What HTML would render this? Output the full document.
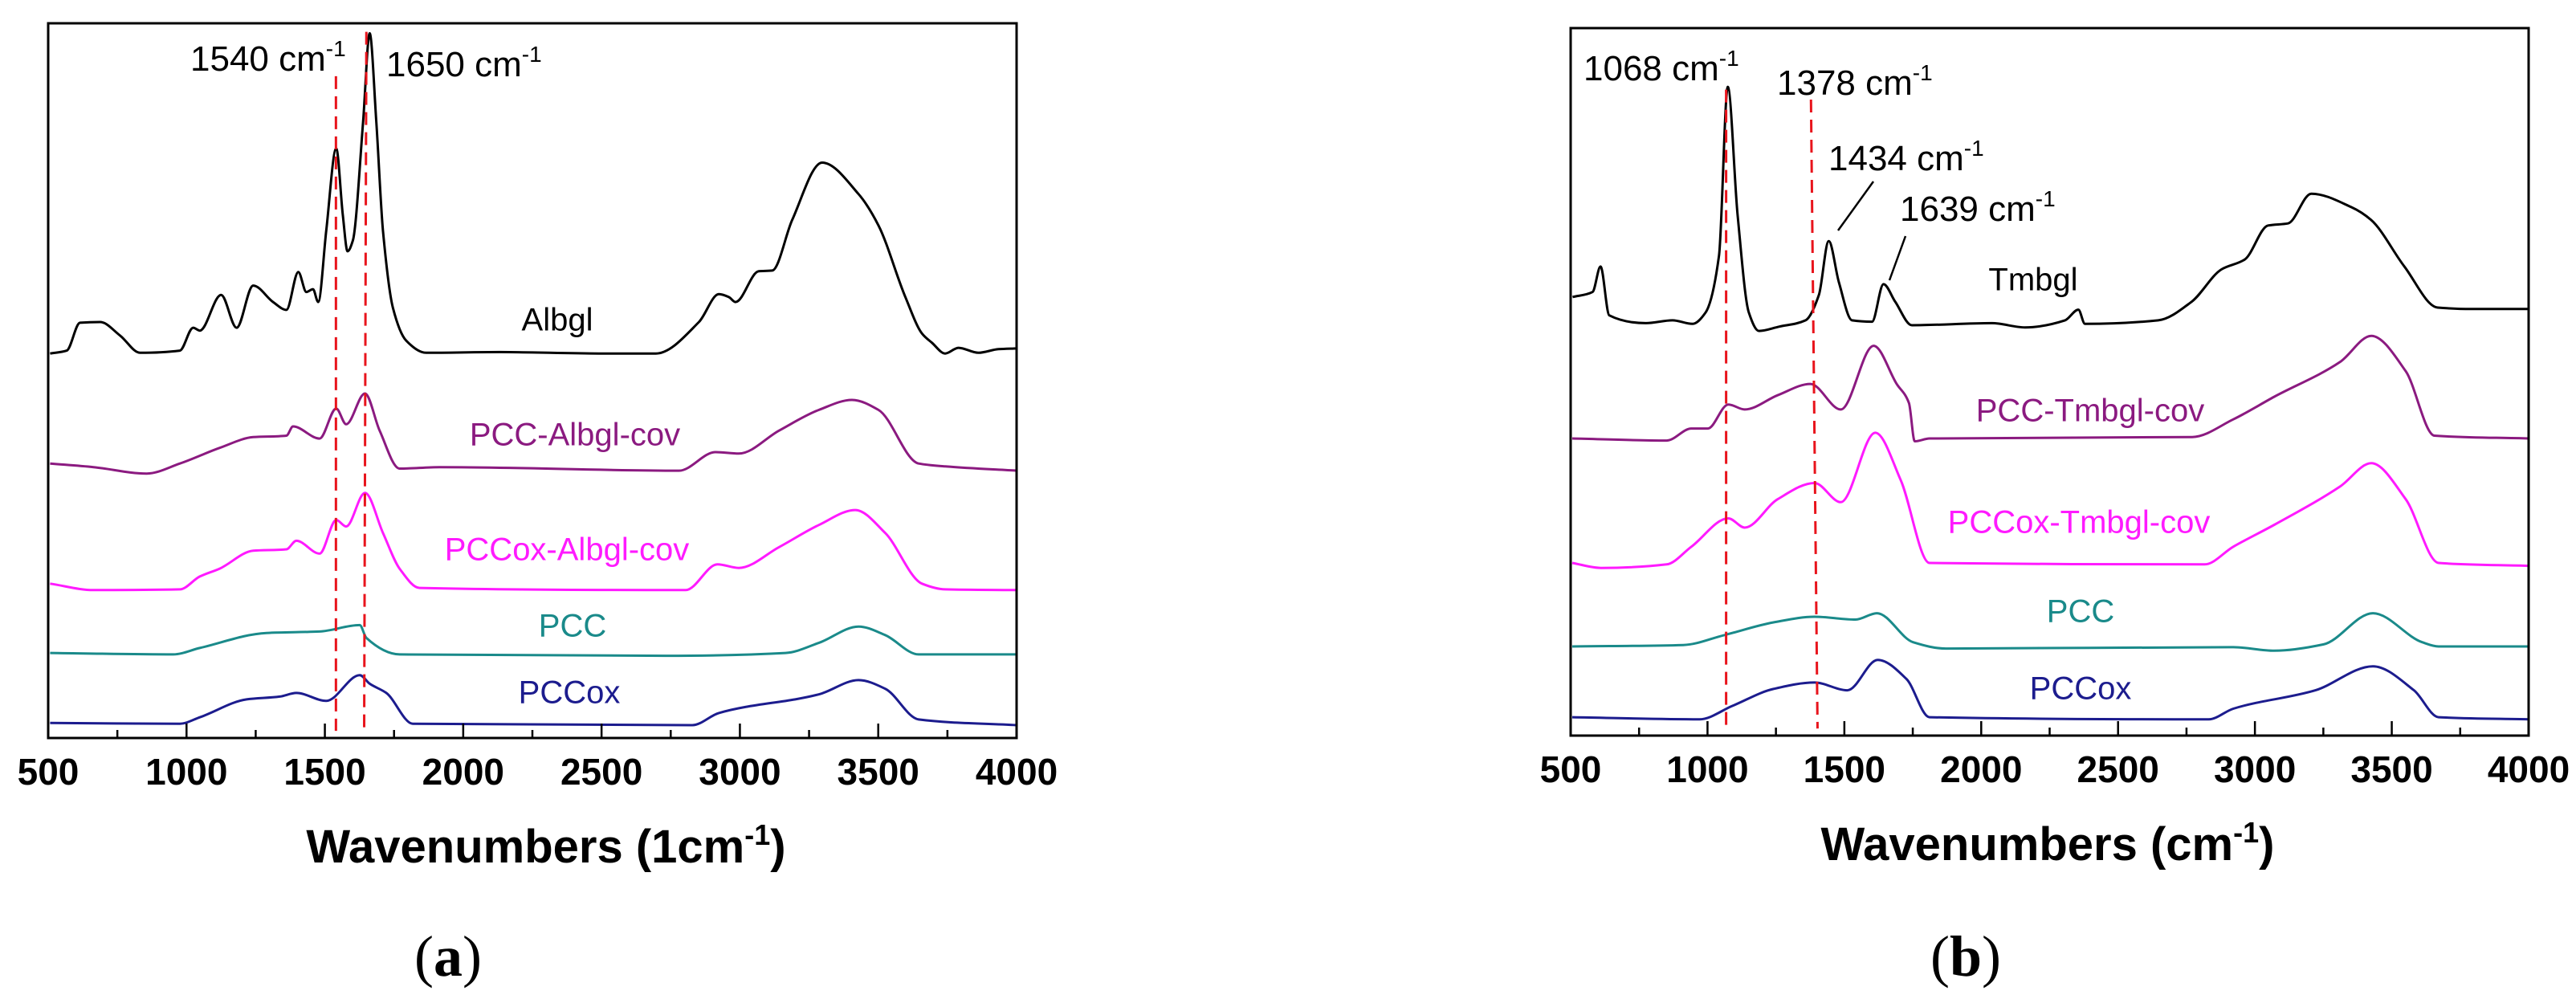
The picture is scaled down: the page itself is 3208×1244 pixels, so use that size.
<!DOCTYPE html>
<html><head><meta charset="utf-8"><style>
html,body{margin:0;padding:0;background:#fff;}
svg{display:block;font-family:"Liberation Sans",sans-serif;}
</style></head><body>
<svg id="chart" width="3208" height="1244" viewBox="0 0 3208 1244" xmlns="http://www.w3.org/2000/svg">
<rect width="3208" height="1244" fill="#fff"/>
<g id="panelA"></g>
<g id="panelB"></g>
</svg>
<script>
const NS="http://www.w3.org/2000/svg";
const xTicks=[500,1000,1500,2000,2500,3000,3500,4000];
// Panel A data
const aAlbglX=[507,567,615,688,760,832,976,1024,1048,1125,1181,1241,1313,1361,1404,1433,1457,1476,1505,1541,1565,1582,1601,1638,1662,1686,1710,1746,1794,1866,2131,2491,2696,2852,2924,2960,2984,3068,3117,3189,3297,3429,3501,3598,3658,3694,3742,3790,3862,3934,4000];
const aAlbglY=[53.8,54.2,58.1,58.2,56.3,53.9,54.2,57.4,57.0,62.0,57.4,63.3,61.0,59.9,65.2,62.4,62.8,61.0,71.0,82.5,73.1,68.1,69.6,86.1,98.6,86.1,71.0,60.2,55.6,53.9,54.0,53.8,53.8,58.2,62.1,61.7,61.0,65.3,65.4,72.5,80.5,76.1,71.7,61.7,56.6,55.3,53.8,54.6,53.9,54.4,54.5];
const aPccCovX=[507,664,856,976,1120,1241,1361,1385,1481,1541,1577,1645,1698,1770,1914,2780,2912,2996,3141,3285,3405,3501,3646,3742,4000];
const aPccCovY=[38.4,37.9,37.0,38.4,40.6,42.1,42.3,43.6,41.9,46.1,43.9,48.2,43.0,37.7,37.9,37.4,40.0,39.8,43.0,45.9,47.3,45.9,38.4,38.0,37.4];
const aPccoxCovX=[507,664,976,1048,1120,1241,1361,1397,1481,1541,1577,1645,1710,1770,1842,2804,2919,2996,3141,3285,3417,3525,3658,3742,4000];
const aPccoxCovY=[21.6,20.7,20.8,22.6,23.7,26.2,26.4,27.6,25.8,30.5,29.6,34.3,28.7,23.7,21.0,20.7,24.3,23.8,26.7,29.8,31.9,28.7,21.6,20.8,20.7];
const aPccX=[507,952,1048,1289,1481,1626,1650,1770,2732,3165,3285,3429,3525,3646,4000];
const aPccY=[11.9,11.7,12.6,14.7,14.9,15.8,14.0,11.7,11.5,11.9,13.3,15.6,14.4,11.7,11.7];
const aPccoxX=[507,976,1048,1217,1337,1397,1505,1626,1662,1722,1818,2828,2924,3285,3429,3525,3646,4000];
const aPccoxY=[2.1,2.0,2.9,5.4,5.8,6.3,5.2,8.8,7.6,6.3,2.0,1.8,3.5,6.1,8.1,6.9,2.6,1.8];
const aPeaks=[1540,1650];
const aPeakTop=[92.6,98.8];
// Panel B data
const bTmbglX=[507,580,609,641,775,872,945,993,1042,1074,1110,1151,1188,1261,1358,1407,1443,1480,1528,1601,1643,1686,1747,2039,2160,2306,2355,2379,2647,2768,2878,2963,3048,3121,3206,3352,3424,3546,3668,3789,4000];
const bTmbglY=[62.0,62.7,66.3,59.4,58.3,58.7,58.2,59.8,67.8,91.7,73.6,59.8,57.2,57.8,58.7,62.3,69.9,64.1,58.7,58.5,63.8,61.3,58.0,58.3,57.7,58.7,60.2,58.2,58.7,61.3,65.9,67.3,72.1,72.4,76.6,74.7,72.9,66.3,60.5,60.3,60.3];
const bPccCovX=[506,851,941,1001,1076,1136,1256,1376,1487,1607,1691,1736,1757,1811,2771,2921,3071,3311,3425,3551,3656,4000];
const bPccCovY=[42.0,41.7,43.4,43.4,46.8,46.1,48.1,49.7,46.1,55.1,49.7,47.0,41.6,42.0,42.2,44.7,47.9,52.8,56.5,51.5,42.4,42.0];
const bPccoxCovX=[506,611,851,941,1076,1136,1256,1391,1487,1613,1706,1811,2816,2921,3071,3311,3425,3551,3671,4000];
const bPccoxCovY=[24.4,23.7,24.2,26.7,30.7,29.4,33.4,35.7,33.0,42.8,36.1,24.4,24.2,26.7,29.8,35.2,38.5,33.4,24.4,24.0];
const bPccX=[506,911,1061,1241,1391,1541,1619,1751,1871,2921,3071,3251,3431,3611,3671,4000];
const bPccY=[12.6,12.8,14.2,16.0,16.8,16.4,17.3,13.2,12.3,12.5,12.0,12.9,17.3,13.2,12.6,12.6];
const bPccoxX=[506,971,1091,1241,1391,1511,1622,1727,1811,2831,2921,3221,3431,3581,3671,4000];
const bPccoxY=[2.6,2.3,4.2,6.6,7.5,6.4,10.7,8.0,2.6,2.3,3.8,6.4,9.8,6.4,2.6,2.3];
const bPeaks=[1068,1378];
const bPeakTop=[91.3,89.9];

function mk(tag,attrs,parent,text){const e=document.createElementNS(NS,tag);for(const k in attrs)e.setAttribute(k,attrs[k]);if(text!==undefined)e.textContent=text;parent.appendChild(e);return e;}

// monotone cubic (Fritsch-Carlson) path, no overshoot
function smoothPath(pts){
  const n=pts.length;
  const dx=[],sl=[];
  for(let i=0;i<n-1;i++){dx[i]=pts[i+1][0]-pts[i][0];sl[i]=(pts[i+1][1]-pts[i][1])/dx[i];}
  const m=[];
  m[0]=sl[0];m[n-1]=sl[n-2];
  for(let i=1;i<n-1;i++){
    if(sl[i-1]*sl[i]<=0)m[i]=0;
    else{const w1=2*dx[i]+dx[i-1],w2=dx[i]+2*dx[i-1];m[i]=(w1+w2)/(w1/sl[i-1]+w2/sl[i]);}
  }
  let d="M"+pts[0][0].toFixed(1)+","+pts[0][1].toFixed(1);
  for(let i=0;i<n-1;i++){
    const h=dx[i]/3;
    d+="C"+(pts[i][0]+h).toFixed(1)+","+(pts[i][1]+m[i]*h).toFixed(1)+" "+(pts[i+1][0]-h).toFixed(1)+","+(pts[i+1][1]-m[i+1]*h).toFixed(1)+" "+pts[i+1][0].toFixed(1)+","+pts[i+1][1].toFixed(1);
  }
  return d;
}

function panel(g,box,series,peaks,peakTop,peakSlant,xlabelParts,letter,letterX){
  const sx=v=>box.l+(v-500)/3500*(box.r-box.l);
  const sy=v=>box.b-v/100*(box.b-box.t);
  series.forEach(s=>{
    const pts=s.x.map((xv,i)=>[sx(xv),sy(s.y[i])]);
    const p=mk("path",{d:smoothPath(pts),fill:"none",stroke:s.c,"stroke-width":3,"stroke-linejoin":"round"},g);
    
    
    const t=mk("text",{x:s.lx,y:s.ly,"text-anchor":"middle","font-size":40,fill:s.c,"dominant-baseline":"middle"},g,s.label);
    
    
  });
  peaks.forEach((pk,i)=>{
    const l=mk("line",{x1:sx(pk),x2:sx(pk+peakSlant[i]),y1:sy(peakTop[i]),y2:sy(1),stroke:"#e8141c","stroke-width":3,"stroke-dasharray":"16,9"},g);
    
    
  });
  const fr=mk("rect",{x:box.l,y:box.t,width:box.r-box.l,height:box.b-box.t,fill:"none",stroke:"#000","stroke-width":3},g);
  
  
  for(let v=500;v<=4000;v+=250){
    const major=(v%500===0);
    const tk=mk("line",{x1:sx(v),x2:sx(v),y1:box.b,y2:box.b-(major?18:10),stroke:"#000","stroke-width":2.5},g);
    
    
  }
  xTicks.forEach(v=>{
    const t=mk("text",{x:sx(v),y:box.b+58,"text-anchor":"middle","font-size":46,"font-weight":"bold"},g,String(v));
    
    
  });
  const xl=mk("text",{x:(box.xlx),y:box.b+155,"text-anchor":"middle","font-size":58,"font-weight":"bold"},g);
  
  
  mk("tspan",{},xl,xlabelParts[0]);
  mk("tspan",{dy:-22,"font-size":36},xl,"-1");
  mk("tspan",{dy:22},xl,xlabelParts[1]);
  const lt=mk("text",{x:letterX,y:1215,"text-anchor":"middle","font-size":72,"font-family":"Liberation Serif, serif"},g);
  
  
  mk("tspan",{},lt,"(");
  mk("tspan",{"font-weight":"bold"},lt,letter);
  mk("tspan",{},lt,")");
  return {sx,sy};
}
function ann(g,x,y,num,name){
  const t=mk("text",{x:x,y:y,"font-size":44},g);
  
  
  mk("tspan",{},t,num+" cm");
  mk("tspan",{dy:-18,"font-size":28},t,"-1");
}
const gA=document.getElementById("panelA");
const boxA={l:60,r:1266,t:29,b:919,xlx:680};
panel(gA,boxA,[
 {name:"albgl",x:aAlbglX,y:aAlbglY,c:"#000",label:"Albgl",lx:694,ly:401},
 {name:"pcc-albgl-cov",x:aPccCovX,y:aPccCovY,c:"#8b1a80",label:"PCC-Albgl-cov",lx:716,ly:544},
 {name:"pccox-albgl-cov",x:aPccoxCovX,y:aPccoxCovY,c:"#ff1aff",label:"PCCox-Albgl-cov",lx:706,ly:687},
 {name:"pcc",x:aPccX,y:aPccY,c:"#1a8a8a",label:"PCC",lx:713,ly:782},
 {name:"pccox",x:aPccoxX,y:aPccoxY,c:"#1c1c8e",label:"PCCox",lx:709,ly:865}
],aPeaks,aPeakTop,[0,-8],["Wavenumbers (1cm",")"],"a",558);
ann(gA,237,88,"1540","annotation-1540");
ann(gA,481,95,"1650","annotation-1650");

const gB=document.getElementById("panelB");
const boxB={l:1956,r:3149,t:35,b:916,xlx:2550};
panel(gB,boxB,[
 {name:"tmbgl",x:bTmbglX,y:bTmbglY,c:"#000",label:"Tmbgl",lx:2532,ly:351},
 {name:"pcc-tmbgl-cov",x:bPccCovX,y:bPccCovY,c:"#8b1a80",label:"PCC-Tmbgl-cov",lx:2603,ly:514},
 {name:"pccox-tmbgl-cov",x:bPccoxCovX,y:bPccoxCovY,c:"#ff1aff",label:"PCCox-Tmbgl-cov",lx:2589,ly:653},
 {name:"pcc",x:bPccX,y:bPccY,c:"#1a8a8a",label:"PCC",lx:2591,ly:764},
 {name:"pccox",x:bPccoxX,y:bPccoxY,c:"#1c1c8e",label:"PCCox",lx:2591,ly:860}
],bPeaks,bPeakTop,[0,24],["Wavenumbers (cm",")"],"b",2448);
ann(gB,1972,100,"1068","annotation-1068");
ann(gB,2213,118,"1378","annotation-1378");
ann(gB,2277,212,"1434","annotation-1434");
ann(gB,2366,275,"1639","annotation-1639");
const l1=mk("line",{x1:2333,y1:226,x2:2289,y2:287,stroke:"#000","stroke-width":2.5},gB);


const l2=mk("line",{x1:2373,y1:294,x2:2353,y2:349,stroke:"#000","stroke-width":2.5},gB);


</script>
</body></html>
